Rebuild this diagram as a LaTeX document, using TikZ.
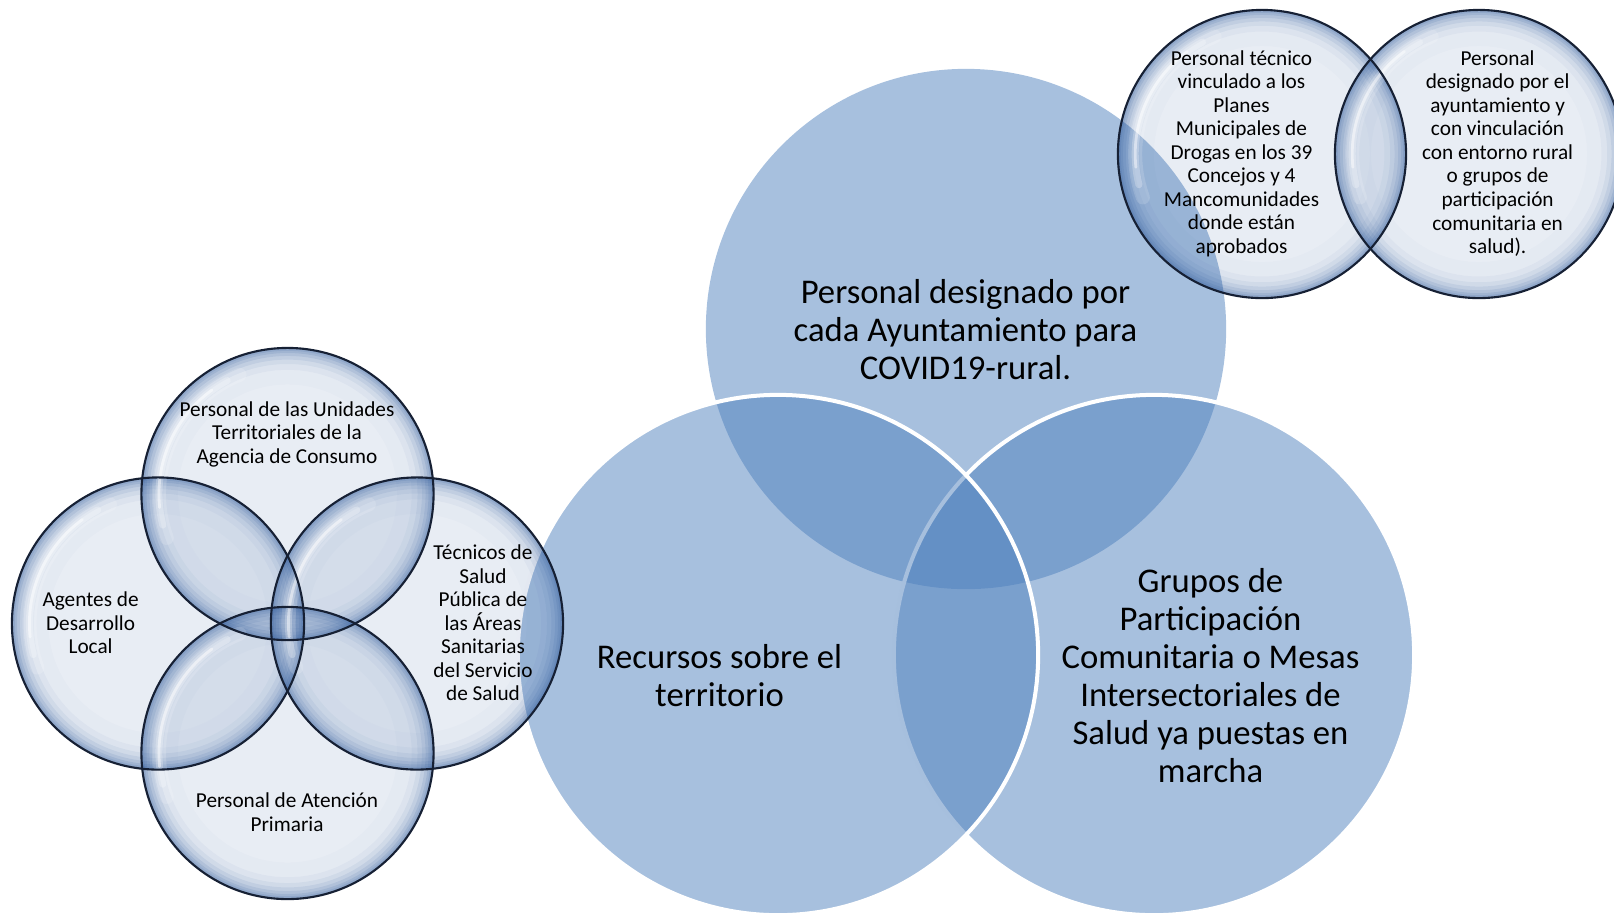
\documentclass[tikz,border=0pt]{standalone}
\usepackage{fontspec}
\setmainfont{Carlito}
\definecolor{vennblue}{RGB}{79,129,189}
\definecolor{bubcol}{RGB}{48,91,155}
\definecolor{bubline}{RGB}{22,32,52}
\tikzset{
  vennfill/.style={fill=vennblue, fill opacity=0.5},
  vennline/.style={draw=white, line width=1.14pt},
  bubfill/.style={fill=bubcol, fill opacity=0.11},
  bubring/.style={fill=bubcol, even odd rule},
  bubedge/.style={draw=bubline, line width=0.6pt},
  bubshine/.style={draw=white, line cap=round},
  bigtext/.style={align=center, text=black, inner sep=0pt, font=\fontsize{9.86pt}{10.81pt}\selectfont},
  smalltext/.style={align=center, text=black, inner sep=0pt, font=\fontsize{6.05pt}{6.69pt}\selectfont},
}
\begin{document}
\begin{tikzpicture}[x=0.01cm, y=-0.01cm]
\useasboundingbox (0,0) rectangle (1614,917);
% centres
\coordinate (vT) at (966,329);
\coordinate (vL) at (778,655);
\coordinate (vR) at (1154,655);
\coordinate (bT) at (287.5,494);
\coordinate (bL) at (158,623.5);
\coordinate (bR) at (417,623.5);
\coordinate (bB) at (287.5,753);
\coordinate (tA) at (1262,154);
\coordinate (tB) at (1479,154);
% big venn
\fill[vennfill] (vT) circle (2.6cm);
\fill[vennfill] (vR) circle (2.6cm);
\draw[vennline] (vR) circle (2.6cm);
\fill[vennfill] (vL) circle (2.6cm);
\draw[vennline] (vL) circle (2.6cm);
% bubbles
\foreach \c/\r in {bT/1.46,bL/1.46,bR/1.46,bB/1.46,tA/1.44,tB/1.44} {
  \fill[bubfill] (\c) circle (\r cm);
  \foreach \f/\a in {0.75/0.022,0.85/0.046,0.89/0.072,0.92/0.091,0.945/0.114,0.965/0.129,0.98/0.13,0.992/0.128} {
    \fill[bubring, fill opacity=\a] (\c) circle (\r cm) (\c) circle ({\f*\r cm});
  }
}
\foreach \c/\r in {bT/1.46,bL/1.46,bR/1.46,bB/1.46,tA/1.44,tB/1.44} {
  \draw[bubshine, line width=4pt, opacity=0.15] ([shift={(112:{0.88*\r cm})}]\c) arc (112:200:{0.88*\r cm});
  \draw[bubshine, line width=2pt, opacity=0.25] ([shift={(118:{0.88*\r cm})}]\c) arc (118:194:{0.88*\r cm});
  \draw[bubshine, line width=0.8pt, opacity=0.45] ([shift={(126:{0.88*\r cm})}]\c) arc (126:186:{0.88*\r cm});
}
\foreach \c/\r in {bT/1.46,bL/1.46,bR/1.46,bB/1.46,tA/1.44,tB/1.44} { \draw[bubedge] (\c) circle (\r cm); }
% texts
\node[bigtext] (txT) at (965.5,329.4) {Personal designado por\\cada Ayuntamiento para\\COVID19-rural.};
\node[bigtext] (txL) at (719.5,675.7) {Recursos sobre el\\territorio};
\node[bigtext] (txR) at (1210.5,675.7) {Grupos de\\Participación\\Comunitaria o Mesas\\Intersectoriales de\\Salud ya puestas en\\marcha};
\node[smalltext] (sT) at (287,434) {Personal de las Unidades\\Territoriales de la\\Agencia de Consumo};
\node[smalltext] (sL) at (90.6,623) {Agentes de\\Desarrollo\\Local};
\node[smalltext] (sR) at (483,623) {Técnicos de\\Salud\\Pública de\\las Áreas\\Sanitarias\\del Servicio\\de Salud};
\node[smalltext] (sB) at (287,812) {Personal de Atención\\Primaria};
\node[smalltext] (sA) at (1241.5,153.5) {Personal técnico\\vinculado a los\\Planes\\Municipales de\\Drogas en los 39\\Concejos y 4\\Mancomunidades\\donde están\\aprobados};
\node[smalltext] (sC) at (1497.6,153.5) {Personal\\designado por el\\ayuntamiento y\\con vinculación\\con entorno rural\\o grupos de\\participación\\comunitaria en\\salud).};
\end{tikzpicture}
\end{document}
